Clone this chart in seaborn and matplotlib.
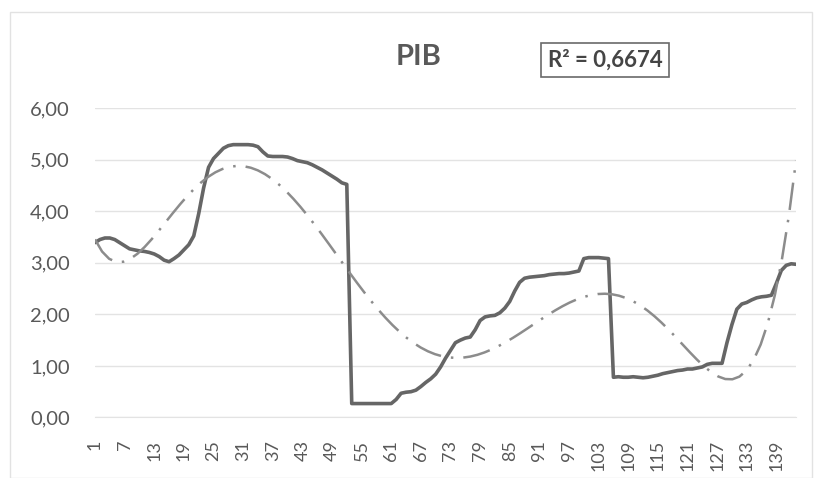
import matplotlib
matplotlib.use("Agg")
import matplotlib.pyplot as plt
import seaborn as sns
import numpy as np
import pandas as pd
from matplotlib.patches import Rectangle

# PIB series (143 periods)
pib_values = [
    3.39, 3.45, 3.48, 3.48, 3.45, 3.39, 3.33, 3.27, 3.25, 3.23,
    3.22, 3.20, 3.17, 3.12, 3.05, 3.02, 3.08, 3.15, 3.25, 3.35,
    3.52, 3.95, 4.45, 4.85, 5.02, 5.12, 5.22, 5.27, 5.29, 5.29,
    5.29, 5.29, 5.28, 5.25, 5.15, 5.07, 5.06, 5.06, 5.06, 5.05,
    5.02, 4.98, 4.96, 4.94, 4.90, 4.85, 4.80, 4.74, 4.68, 4.62,
    4.55, 4.52, 0.27, 0.27, 0.27, 0.27, 0.27, 0.27, 0.27, 0.27,
    0.27, 0.35, 0.47, 0.49, 0.50, 0.53, 0.60, 0.68, 0.75, 0.84,
    0.98, 1.15, 1.30, 1.45, 1.50, 1.54, 1.56, 1.70, 1.88, 1.95,
    1.97, 1.98, 2.03, 2.12, 2.25, 2.45, 2.62, 2.70, 2.72, 2.73,
    2.74, 2.75, 2.77, 2.78, 2.79, 2.79, 2.80, 2.82, 2.84, 3.08,
    3.10, 3.10, 3.10, 3.09, 3.08, 0.78, 0.79, 0.78, 0.78, 0.79,
    0.78, 0.77, 0.78, 0.80, 0.82, 0.85, 0.87, 0.89, 0.91, 0.92,
    0.94, 0.94, 0.96, 0.98, 1.03, 1.05, 1.05, 1.05, 1.45, 1.80,
    2.10, 2.20, 2.23, 2.28, 2.32, 2.34, 2.35, 2.37, 2.60, 2.85,
    2.95, 2.98, 2.97,
]
periods = list(range(1, len(pib_values) + 1))
x_ticks = list(range(1, 140, 6))
y_ticks = [0, 1, 2, 3, 4, 5, 6]
title = "PIB"
r2_label = "R² = 0,6674"

df = pd.DataFrame({"periodo": periods, "pib": pib_values})

sns.set_style("white")
plt.rcParams["font.family"] = ["Lato", "DejaVu Sans"]
text_color = "#595959"

fig = plt.figure(figsize=(8.14, 4.78), dpi=100)
ax = fig.add_axes([0.1167, 0.1266, 0.978 - 0.1167, 0.774 - 0.1266])

# faint chart-area border
fig.patches.append(Rectangle((10 / 814, 0), 802 / 814, 466 / 478, transform=fig.transFigure,
                             fill=False, edgecolor="#e2e2e2", linewidth=1.0))

sns.lineplot(data=df, x="periodo", y="pib", ax=ax, color="#666666", linewidth=2.6)

# 6th order polynomial trend line
sns.regplot(data=df, x="periodo", y="pib", ax=ax, order=6, scatter=False, ci=None,
            line_kws=dict(color="#8c8c8c", linewidth=1.8, dashes=(11, 4, 1, 4)))

ax.set_xlim(1, len(pib_values))
ax.set_ylim(0, 6)
ax.set_xticks(x_ticks)
ax.set_xticklabels([str(t) for t in x_ticks], rotation=90, fontsize=13, color=text_color)
ax.set_yticks(y_ticks)
ax.set_yticklabels([f"{v:.2f}".replace(".", ",") for v in y_ticks], fontsize=14.5, color=text_color)
ax.tick_params(axis="x", length=0, pad=16)
ax.tick_params(axis="y", length=0, pad=18)
ax.set_xlabel("")
ax.set_ylabel("")
ax.grid(axis="y", color="#e3e3e3", linewidth=1.0)
for side in ["top", "right", "left"]:
    ax.spines[side].set_visible(False)
ax.spines["bottom"].set_color("#e3e3e3")

fig.text(419 / 814, 1 - 65 / 478, title, ha="center", va="baseline",
         fontsize=21, fontweight="bold", color=text_color)
fig.text(605 / 814, 1 - 66.7 / 478, r2_label, ha="center", va="baseline",
         fontsize=16, fontweight="bold", color="#454545",
         bbox=dict(boxstyle="square,pad=0.3", facecolor="white", edgecolor="#6a6a6a", linewidth=1.2))

fig.savefig("out.png", dpi=100)
plt.close(fig)
